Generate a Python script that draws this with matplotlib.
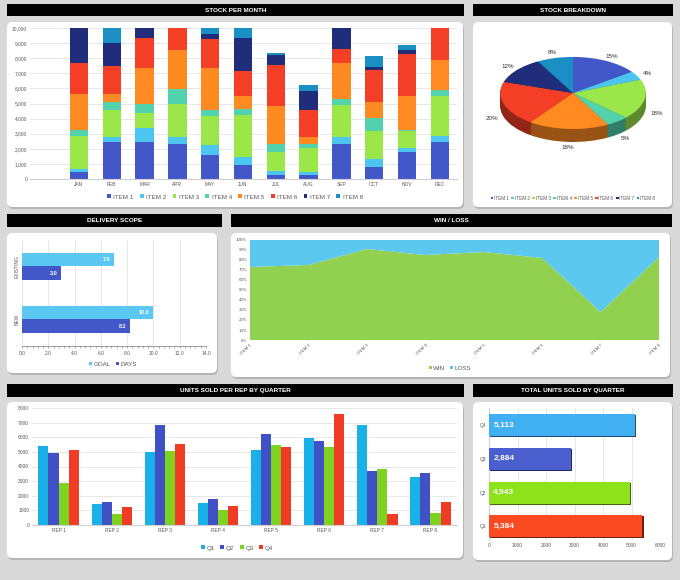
import matplotlib
matplotlib.use('Agg')
import matplotlib.pyplot as plt
import numpy as np
from matplotlib.patches import FancyBboxPatch, Rectangle
from matplotlib.ticker import FuncFormatter, PercentFormatter, AutoMinorLocator
from matplotlib.colors import to_rgb

plt.rcParams['font.family'] = ['Liberation Sans', 'DejaVu Sans']

# ---- data ----
months = ['JAN', 'FEB', 'MAR', 'APR', 'MAY', 'JUN', 'JUL', 'AUG', 'SEP', 'OCT', 'NOV', 'DEC']
items = ['ITEM 1', 'ITEM 2', 'ITEM 3', 'ITEM 4', 'ITEM 5', 'ITEM 6', 'ITEM 7', 'ITEM 8']
stock_item1 = [440, 2420, 2420, 2330, 1600, 920, 290, 240, 2330, 770, 1800, 2480]
stock_item2 = [240, 330, 980, 440, 640, 570, 220, 220, 460, 570, 240, 400]
stock_item3 = [2180, 1820, 1000, 2200, 1940, 2750, 1310, 1580, 2110, 1850, 1170, 2640]
stock_item4 = [390, 550, 570, 960, 390, 400, 510, 290, 370, 880, 40, 370]
stock_item5 = [2350, 480, 2350, 2600, 2810, 850, 2530, 480, 2420, 1050, 2270, 2020]
stock_item6 = [2050, 1900, 2040, 1470, 1870, 1650, 2680, 1760, 950, 2090, 2740, 2090]
stock_item7 = [2350, 1510, 640, 0, 370, 2220, 660, 1280, 1360, 220, 310, 0]
stock_item8 = [0, 990, 0, 0, 380, 640, 150, 350, 0, 700, 290, 0]
stock = [stock_item1, stock_item2, stock_item3, stock_item4,
         stock_item5, stock_item6, stock_item7, stock_item8]

breakdown_pct = [15, 4, 18, 5, 18, 20, 12, 8]

scope_cats = ['NEW', 'EXISTING']
scope_goal = [10.0, 7.0]
scope_days = [8.2, 3.0]

win_pct = [73, 75, 91, 85, 88, 82, 28, 83]
loss_pct = [100 - w for w in win_pct]

reps = ['REP 1', 'REP 2', 'REP 3', 'REP 4', 'REP 5', 'REP 6', 'REP 7', 'REP 8']
rep_q1 = [5370, 1420, 5010, 1530, 5140, 5920, 6830, 3270]
rep_q2 = [4910, 1580, 6830, 1760, 6210, 5740, 3720, 3570]
rep_q3 = [2860, 750, 5050, 1030, 5440, 5350, 3860, 850]
rep_q4 = [5100, 1210, 5530, 1300, 5350, 7570, 780, 1580]

quarters = ['Q1', 'Q2', 'Q3', 'Q4']
total_units = [5384, 4943, 2884, 5113]

item_colors = ['#4258c8', '#4cc6f0', '#9be649', '#52d3ad', '#ff8a22', '#f23f25', '#1f2d7a', '#1a8fc4']
quarter_colors = ['#1ab0e8', '#3f51c4', '#7ed321', '#f03c24']
total_colors = ['#fb4a22', '#8de21c', '#4b5fcf', '#40b0f2']
tick_col = '#595959'

W, H = 680, 580
fig = plt.figure(figsize=(6.8, 5.8), dpi=100)
fig.patch.set_facecolor('#d9d9d9')


def rect(x0, y0, x1, y1):
    return [x0 / W, 1 - y1 / H, (x1 - x0) / W, (y1 - y0) / H]


def panel(x0, y0, x1, y1):
    for off, col, z in [(2, '#b5b5b5', -3), (0, 'white', -2)]:
        r = rect(x0 + off * 0.5, y0 + off, x1 + off * 0.5, y1 + off)
        p = FancyBboxPatch((r[0], r[1]), r[2], r[3], boxstyle='round,pad=0,rounding_size=0.008',
                           mutation_aspect=W / H, transform=fig.transFigure,
                           facecolor=col, edgecolor='none', zorder=z)
        fig.patches.append(p)


def title_bar(x0, y0, x1, y1, text):
    r = rect(x0, y0, x1, y1)
    fig.patches.append(Rectangle((r[0], r[1]), r[2], r[3], transform=fig.transFigure,
                                 facecolor='black', edgecolor='none', zorder=-1))
    fig.text(r[0] + r[2] / 2, r[1] + r[3] / 2, text, color='white', fontsize=4.6,
             fontweight='bold', ha='center', va='center')


def style_ticks(ax, size=3.5):
    ax.tick_params(labelsize=size, colors=tick_col, length=0, pad=2)


# panels and title bars
panel(7, 22, 463, 207)
panel(473, 22, 672, 207)
panel(7, 233, 217, 373)
panel(231, 233, 670, 377)
panel(7, 402, 463, 558)
panel(473, 402, 672, 560)
title_bar(7, 4, 464, 16, 'STOCK PER MONTH')
title_bar(473, 4, 673, 16, 'STOCK BREAKDOWN')
title_bar(7, 214, 222, 227, 'DELIVERY SCOPE')
title_bar(231, 214, 672, 227, 'WIN / LOSS')
title_bar(7, 384, 464, 397, 'UNITS SOLD PER REP BY QUARTER')
title_bar(473, 384, 673, 397, 'TOTAL UNITS SOLD BY QUARTER')

# ---- stock per month ----
ax = fig.add_axes(rect(30, 28, 457, 179))
x = np.arange(len(months))
bottom = np.zeros(len(months))
for name, vals, c in zip(items, stock, item_colors):
    ax.bar(x, vals, 0.56, bottom=bottom, color=c, label=name, zorder=2)
    bottom += np.array(vals)
ax.set_xlim(-1.49, 11.52)
ax.set_ylim(0, 10000)
ax.set_yticks(range(0, 10001, 1000))
ax.yaxis.set_major_formatter(FuncFormatter(lambda v, p: f'{int(v):,}'))
ax.set_xticks(x)
ax.set_xticklabels(months)
ax.grid(axis='y', color='#e3e3e3', linewidth=0.6, zorder=0)
for s in ax.spines.values():
    s.set_visible(False)
ax.spines['bottom'].set_visible(True)
ax.spines['bottom'].set_color('#d0d0d0')
style_ticks(ax)
fig.legend(*ax.get_legend_handles_labels(), loc='center', bbox_to_anchor=(235 / W, 1 - 197 / H),
           ncol=8, fontsize=4.5, frameon=False, handlelength=0.6, handleheight=0.6,
           handletextpad=0.4, columnspacing=1.0, labelcolor=tick_col)

# ---- stock breakdown (pie with depth) ----
ax = fig.add_axes(rect(493, 40, 653, 160))
depth = 0.36
dark = [tuple(np.array(to_rgb(c)) * 0.6) for c in item_colors]
for d in np.linspace(depth, 0.02, 16):
    ax.pie(breakdown_pct, colors=dark, startangle=90, counterclock=False, center=(0, -d),
           wedgeprops=dict(linewidth=0))
wedges, _ = ax.pie(breakdown_pct, colors=item_colors, startangle=90, counterclock=False,
                   wedgeprops=dict(linewidth=0))
for w, pct in zip(wedges, breakdown_pct):
    ang = np.deg2rad((w.theta1 + w.theta2) / 2)
    lx, ly = 1.17 * np.cos(ang), 1.15 * np.sin(ang)
    if ly < 0:
        ly -= depth
    ax.text(lx, ly, f'{pct}%', fontsize=4.5, color='#333333', ha='center', va='center')
ax.set_aspect('auto')
ax.set_xlim(-1.1, 1.1)
ax.set_ylim(-1.86, 1.47)
ax.set_axis_off()
fig.legend(wedges, items, loc='center', bbox_to_anchor=(573 / W, 1 - 198 / H),
           ncol=8, fontsize=3.3, frameon=False, handlelength=0.5, handleheight=0.5,
           handletextpad=0.2, columnspacing=0.6, labelcolor=tick_col)

# ---- delivery scope ----
ax = fig.add_axes(rect(22, 240, 206, 346))
y = np.arange(len(scope_cats))
bg = ax.barh(y + 0.13, scope_goal, 0.26, color='#5ac8f0', label='GOAL', zorder=2)
bd = ax.barh(y - 0.13, scope_days, 0.26, color='#4258c8', label='DAYS', zorder=2)
for bars, vals in [(bg, scope_goal), (bd, scope_days)]:
    for b, v in zip(bars, vals):
        ax.text(v - 0.3, b.get_y() + b.get_height() / 2, f'{v:.1f}', color='white',
                fontsize=4, fontweight='bold', ha='right', va='center', zorder=3)
ax.set_xlim(0, 14)
ax.set_ylim(-0.5, 1.5)
ax.set_xticks(np.arange(0, 14.1, 2))
ax.xaxis.set_major_formatter(FuncFormatter(lambda v, p: f'{v:.1f}'))
ax.xaxis.set_minor_locator(AutoMinorLocator(5))
ax.set_yticks(y)
ax.set_yticklabels(scope_cats, rotation=90, va='center')
ax.grid(axis='x', color='#e3e3e3', linewidth=0.6, zorder=0)
for s in ax.spines.values():
    s.set_visible(False)
ax.spines['bottom'].set_visible(True)
ax.spines['bottom'].set_color('#8c8c8c')
ax.spines['bottom'].set_linewidth(0.6)
style_ticks(ax)
ax.tick_params(axis='x', which='both', length=1.5, color='#8c8c8c', width=0.5)
fig.legend([bg, bd], ['GOAL', 'DAYS'], loc='center', bbox_to_anchor=(113 / W, 1 - 364 / H),
           ncol=2, fontsize=4.5, frameon=False, handlelength=0.5, handleheight=0.5,
           handletextpad=0.2, columnspacing=0.8, labelcolor=tick_col)

# ---- win / loss ----
ax = fig.add_axes(rect(250, 240, 659, 340))
xi = np.arange(len(items))
polys = ax.stackplot(xi, win_pct, loss_pct, colors=['#92d050', '#5bc8f0'], labels=['WIN', 'LOSS'])
ax.set_xlim(0, len(items) - 1)
ax.set_ylim(0, 100)
ax.set_yticks(range(0, 101, 10))
ax.yaxis.set_major_formatter(PercentFormatter(decimals=0))
ax.set_xticks(xi)
ax.set_xticklabels(items, rotation=45, ha='right', rotation_mode='anchor')
for s in ax.spines.values():
    s.set_visible(False)
style_ticks(ax, 3.2)
fig.legend(polys, ['WIN', 'LOSS'], loc='center', bbox_to_anchor=(450 / W, 1 - 368 / H),
           ncol=2, fontsize=4.5, frameon=False, handlelength=0.5, handleheight=0.5,
           handletextpad=0.2, columnspacing=0.8, labelcolor=tick_col)

# ---- units sold per rep ----
ax = fig.add_axes(rect(32, 408, 457, 525))
xr = np.arange(len(reps))
bw = 0.19
qbars = []
for k, (vals, c) in enumerate(zip([rep_q1, rep_q2, rep_q3, rep_q4], quarter_colors)):
    qbars.append(ax.bar(xr + (k - 1.5) * bw, vals, bw, color=c, zorder=2))
ax.set_xlim(-0.5, 7.5)
ax.set_ylim(0, 8000)
ax.set_yticks(range(0, 8001, 1000))
ax.set_xticks(xr)
ax.set_xticklabels(reps)
ax.grid(axis='y', color='#e3e3e3', linewidth=0.6, zorder=0)
for s in ax.spines.values():
    s.set_visible(False)
ax.spines['bottom'].set_visible(True)
ax.spines['bottom'].set_color('#d0d0d0')
style_ticks(ax)
fig.legend(qbars, quarters, loc='center', bbox_to_anchor=(237 / W, 1 - 548 / H),
           ncol=4, fontsize=4.5, frameon=False, handlelength=0.6, handleheight=0.6,
           handletextpad=0.3, columnspacing=0.9, labelcolor=tick_col)

# ---- total units sold by quarter ----
ax = fig.add_axes(rect(489, 408, 660, 540))
yq = np.arange(len(quarters))
shade = [tuple(np.array(to_rgb(c)) * 0.45) for c in total_colors]
ax.barh(yq - 0.03, np.array(total_units) + 45, 0.65, color=shade, zorder=2)
ax.barh(yq, total_units, 0.65, color=total_colors, zorder=3)
for yy, v in zip(yq, total_units):
    ax.text(150, yy, f'{v:,}', color='white', fontsize=6, fontweight='bold',
            ha='left', va='center', zorder=4)
ax.set_xlim(0, 6000)
ax.set_ylim(-0.4, 3.5)
ax.set_xticks(range(0, 6001, 1000))
ax.set_yticks(yq)
ax.set_yticklabels(quarters)
ax.grid(axis='x', color='#e3e3e3', linewidth=0.6, zorder=0)
for s in ax.spines.values():
    s.set_visible(False)
ax.spines['left'].set_visible(True)
ax.spines['left'].set_color('#d0d0d0')
style_ticks(ax)

fig.savefig('out.png', dpi=100, facecolor=fig.get_facecolor())
